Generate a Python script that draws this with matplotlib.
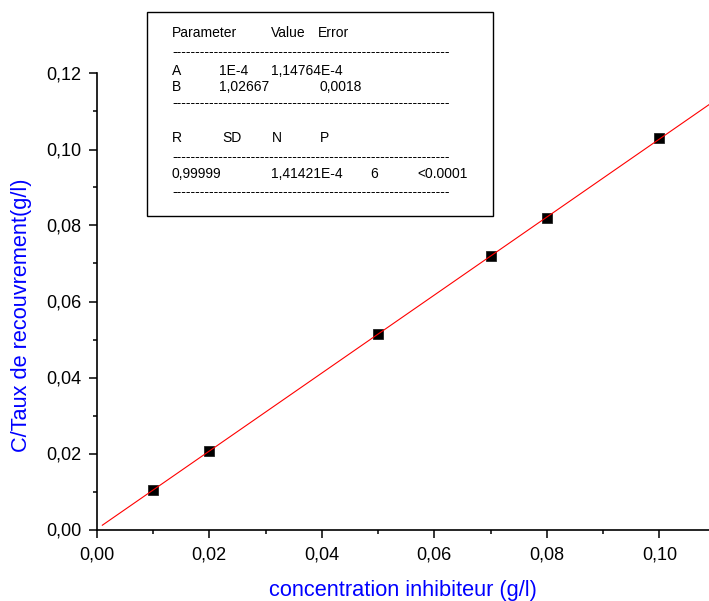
import matplotlib
matplotlib.use("Agg")
import matplotlib.pyplot as plt
import numpy as np
from matplotlib.patches import Rectangle
from matplotlib.ticker import MultipleLocator, FuncFormatter

plt.rcParams['font.family'] = ['Liberation Sans', 'DejaVu Sans']

# measured points
concentration = [0.01, 0.02, 0.05, 0.07, 0.08, 0.10]
c_over_theta = [0.0103, 0.0206, 0.0515, 0.0720, 0.0820, 0.1029]

# linear fit Y = A + B*X
fit_A = 1e-4
fit_B = 1.02667
fit_x_range = [0.001, 0.115]

# fit report
param_header = ["Parameter", "Value", "Error"]
param_rows = [["A", "1E-4", "1,14764E-4"], ["B", "1,02667", "0,0018"]]
stat_header = ["R", "SD", "N", "P"]
stat_values = ["0,99999", "1,41421E-4", "6", "<0.0001"]

W, H = 709, 601
fig = plt.figure(figsize=(W / 100, H / 100), dpi=100)


def fx(px):
    return px / W


def fy(py):
    return 1 - py / H


ax = fig.add_axes([fx(96.7), fy(529.5), 1 - fx(96.7), fy(73.5) - fy(529.5)])

ax.plot(concentration, c_over_theta, linestyle='none', marker='s', markersize=6.5,
        markerfacecolor='black', markeredgecolor='#222222', markeredgewidth=0.6, zorder=3)

xf = np.array(fit_x_range)
ax.plot(xf, fit_A + fit_B * xf, color='red', linewidth=0.8, zorder=4)

ax.set_xlim(0, 0.1088)
ax.set_ylim(0, 0.12)

for side in ('top', 'right'):
    ax.spines[side].set_visible(False)
for side in ('left', 'bottom'):
    ax.spines[side].set_linewidth(1.2)

ax.xaxis.set_major_locator(MultipleLocator(0.02))
ax.xaxis.set_minor_locator(MultipleLocator(0.01))
ax.yaxis.set_major_locator(MultipleLocator(0.02))
ax.yaxis.set_minor_locator(MultipleLocator(0.01))
comma = FuncFormatter(lambda v, p: f"{v:.2f}".replace('.', ','))
ax.xaxis.set_major_formatter(comma)
ax.yaxis.set_major_formatter(comma)
ax.tick_params(which='major', direction='out', length=5.5, width=1.1, labelsize=13)
ax.tick_params(axis='x', which='major', pad=6.5)
ax.tick_params(axis='y', which='major', pad=5.8)
ax.tick_params(which='minor', direction='out', length=3, width=1.1)

ax.set_xlabel("concentration inhibiteur (g/l)", color='blue', fontsize=15.7, labelpad=12)
ax.set_ylabel("C/Taux de recouvrement(g/l)", color='blue', fontsize=15.7, labelpad=10)
ax.yaxis.label.set_y(0.47)

# fit report box
fig.add_artist(Rectangle((fx(147), fy(216)), fx(493) - fx(147), fy(12) - fy(216),
                         transform=fig.transFigure, fill=True, facecolor='white',
                         edgecolor='black', linewidth=1.0, zorder=5))

fs = 10
dashes = "-" * 60


def put(x, y, s):
    fig.text(fx(x), fy(y), s, fontsize=fs, ha='left', va='center', zorder=6)


for x, s in zip([172, 271, 318], param_header):
    put(x, 33, s)
put(172, 52, dashes)
for y, row in zip([71, 87], param_rows):
    xs = [172, 219, 271] if row[0] == "A" else [172, 219, 320]
    for x, s in zip(xs, row):
        put(x, y, s)
put(172, 103, dashes)
for x, s in zip([172, 222, 272, 320], stat_header):
    put(x, 138, s)
put(172, 157, dashes)
for x, s in zip([172, 271, 370, 417], stat_values):
    put(x, 174, s)
put(172, 192, dashes)

fig.savefig("out.png", dpi=100)
